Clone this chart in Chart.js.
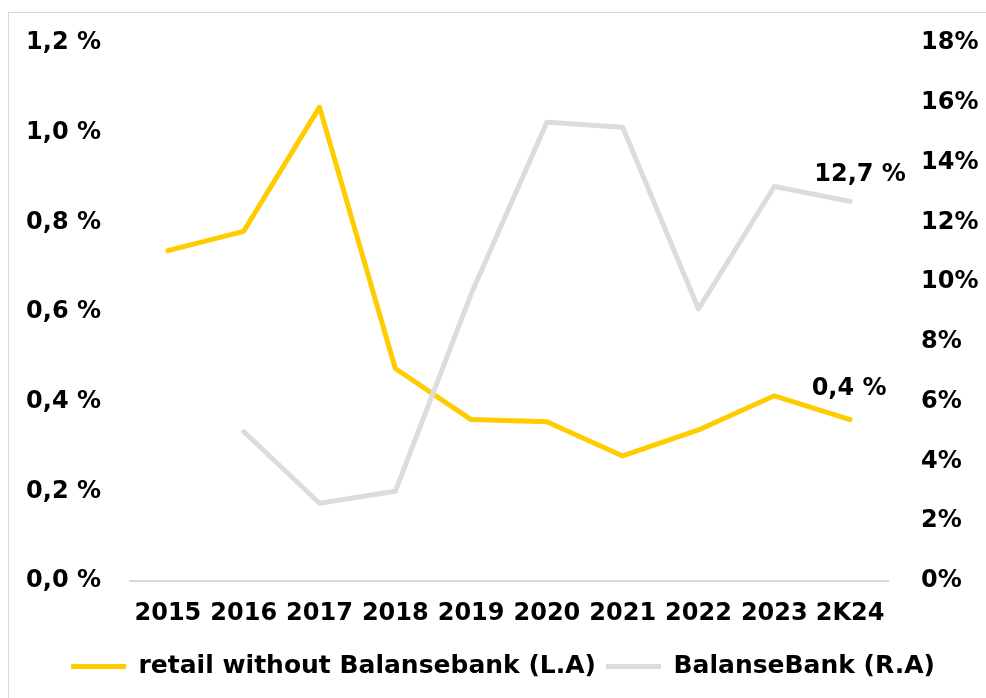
<!DOCTYPE html>
<html>
<head>
<meta charset="utf-8">
<script src="https://cdn.jsdelivr.net/npm/chart.js@4.4.1/dist/chart.umd.min.js"></script>
<style>
  html, body { margin: 0; padding: 0; background: #fff; overflow: hidden; }
  #wrap { position: relative; width: 986px; height: 698px; }
  #frame { position: absolute; left: 8px; top: 12px; width: 1000px; height: 700px;
           border-left: 1px solid #d9d9d9; border-top: 1px solid #d9d9d9; }
  canvas { position: absolute; left: 0; top: 0; }
</style>
</head>
<body>
<div id="wrap">
  <div id="frame"></div>
  <canvas id="chart" width="986" height="698"></canvas>
</div>
<script>
const years = ['2015', '2016', '2017', '2018', '2019', '2020', '2021', '2022', '2023', '2K24'];
const retail = [0.737, 0.78, 1.057, 0.474, 0.36, 0.355, 0.279, 0.337, 0.413, 0.36];
const balanse = [null, 5.0, 2.6, 3.0, 9.6, 15.35, 15.18, 9.1, 13.2, 12.7];
const leftTicks = [0, 0.2, 0.4, 0.6, 0.8, 1.0, 1.2];
const rightTicks = [0, 2, 4, 6, 8, 10, 12, 14, 16, 18];

const font = 'DejaVu Sans';

// label at the last point of each line
const endLabels = {
    id: 'endLabels',
    afterDatasetsDraw(chart, args, opts) {
        const ctx = chart.ctx;
        ctx.save();
        ctx.font = 'bold 24px ' + font;
        ctx.fillStyle = '#000';
        ctx.textAlign = 'center';
        ctx.textBaseline = 'middle';
        chart.data.datasets.forEach((ds, i) => {
            const meta = chart.getDatasetMeta(i);
            const last = meta.data[meta.data.length - 1];
            const v = ds.data[ds.data.length - 1];
            const off = opts.offsets[i];
            ctx.fillText(v.toFixed(1).replace('.', ',') + ' %', last.x + off[0], last.y + off[1]);
        });
        ctx.restore();
    }
};

const ctx = document.getElementById('chart').getContext('2d');
const chart = new Chart(ctx, {
    type: 'line',
    data: {
        labels: years,
        datasets: [{
            label: 'retail without Balansebank (L.A)',
            data: retail,
            yAxisID: 'y',
            borderColor: '#ffcc00',
            backgroundColor: '#ffcc00',
            borderWidth: 5,
            borderCapStyle: 'round',
            borderJoinStyle: 'round',
            pointRadius: 0,
            tension: 0,
            order: 1
        }, {
            label: 'BalanseBank (R.A)',
            data: balanse,
            yAxisID: 'y1',
            borderColor: '#dcdcdc',
            backgroundColor: '#dcdcdc',
            borderWidth: 5,
            borderCapStyle: 'round',
            borderJoinStyle: 'round',
            pointRadius: 0,
            tension: 0,
            order: 0
        }]
    },
    options: {
        responsive: false,
        animation: false,
        layout: { padding: { top: 43, left: 20, right: 0, bottom: 9 } },
        plugins: {
            tooltip: { enabled: false },
            legend: {
                position: 'bottom',
                labels: {
                    font: { family: font, size: 25, weight: 'bold' },
                    color: '#000',
                    boxWidth: 55,
                    boxHeight: 5,
                    padding: 10,
                    sort: (a, b) => a.datasetIndex - b.datasetIndex,
                    generateLabels(chart) {
                        const items = Chart.defaults.plugins.legend.labels.generateLabels(chart);
                        items.forEach(it => { it.lineWidth = 0; });
                        return items;
                    }
                }
            },
            endLabels: { offsets: [[-1, -31], [10, -27]] }
        },
        scales: {
            x: {
                offset: true,
                grid: { display: false, drawTicks: false },
                border: { display: true, color: '#d9d9d9', width: 2 },
                ticks: { font: { family: font, size: 24, weight: 'bold' }, color: '#000', padding: 18, maxRotation: 0, autoSkip: false },
                afterFit(s) { s.height = 63; }
            },
            y: {
                position: 'left',
                min: 0, max: 1.2,
                grid: { display: false, drawTicks: false },
                border: { display: false },
                afterBuildTicks(s) { s.ticks = leftTicks.map(v => ({ value: v })); },
                ticks: {
                    font: { family: font, size: 24, weight: 'bold' }, color: '#000', padding: 29,
                    callback: v => v.toFixed(1).replace('.', ',') + ' %'
                },
                afterFit(s) { s.width = 110; s.paddingTop = 0; s.paddingBottom = 0; }
            },
            y1: {
                position: 'right',
                min: 0, max: 18,
                grid: { display: false, drawTicks: false },
                border: { display: false },
                afterBuildTicks(s) { s.ticks = rightTicks.map(v => ({ value: v })); },
                ticks: {
                    font: { family: font, size: 24, weight: 'bold' }, color: '#000', padding: 33,
                    callback: v => v + '%'
                },
                afterFit(s) { s.width = 98; s.paddingTop = 0; s.paddingBottom = 0; }
            }
        }
    },
    plugins: [endLabels]
});
</script>
</body>
</html>
